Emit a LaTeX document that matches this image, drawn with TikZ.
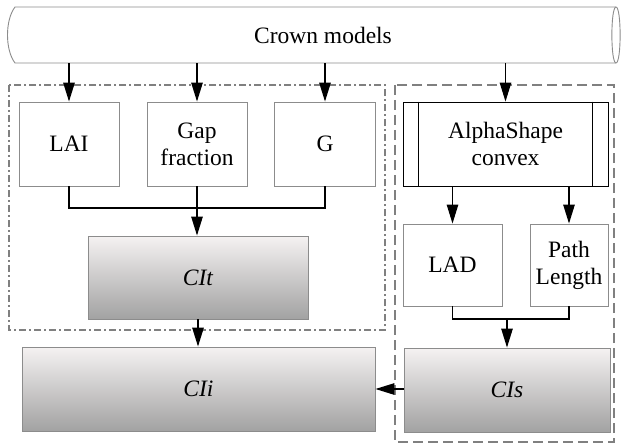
\documentclass[tikz,border=0pt]{standalone}
\usepackage{fontspec}
\setmainfont{Liberation Serif}
\newfontfamily\tnr{Liberation Serif}
\usetikzlibrary{arrows.meta}
\definecolor{boxgray}{HTML}{8C8C8C}
\definecolor{framegray}{HTML}{808080}
\definecolor{shtop}{HTML}{F5F2F2}
\definecolor{shbot}{HTML}{A2A2A2}
\tikzset{
  every node/.style={font=\tnr\fontsize{23.5}{27}\selectfont, inner sep=1pt},
  plainbox/.style={draw=boxgray, line width=0.9pt, fill=white, align=center},
  shadebox/.style={draw=boxgray, line width=0.9pt, top color=shtop, bottom color=shbot, align=center, font=\tnr\fontsize{23.5}{27}\selectfont\itshape},
  procbox/.style={draw=black, line width=0.9pt, fill=white, align=center},
  conn/.style={line width=1.1pt, draw=black},
  arr/.style={conn, -{Triangle[width=11.5pt,length=19pt]}},
  dashdotframe/.style={draw=framegray, line width=2pt, dash pattern=on 7pt off 3pt on 2pt off 3pt},
  dashframe/.style={draw=framegray, line width=2pt, dash pattern=on 10pt off 5pt},
}
\begin{document}
\begin{tikzpicture}[x=1pt,y=-1pt]
\useasboundingbox (0,0) rectangle (622,444);
% frames
\draw[dashdotframe] (9,85) rectangle (385,330);
\draw[dashframe] (395,85) rectangle (614,442);
% cylinder
\draw[boxgray, line width=0.9pt, fill=white]
  (15,63) .. controls (5,50) and (5,20) .. (15,7) -- (616,7)
  .. controls (621.5,7) and (621.5,63) .. (616,63) -- cycle;
\draw[boxgray, line width=0.9pt] (616,7) .. controls (610.5,7) and (610.5,63) .. (616,63);
\node[minimum height=56pt] (crown) at (323,35) {Crown models};
% boxes
\node[plainbox, minimum width=100pt, minimum height=84pt] (lai) at (69,144) {LAI};
\node[plainbox, minimum width=100pt, minimum height=84pt] (gap) at (197,144) {Gap\\fraction};
\node[plainbox, minimum width=101pt, minimum height=84pt] (g) at (325,144) {G};
\node[procbox, minimum width=205pt, minimum height=84pt] (alpha) at (505.5,144) {AlphaShape\\convex};
\draw[line width=0.9pt] ([xshift=16pt]alpha.north west) -- ([xshift=16pt]alpha.south west);
\draw[line width=0.9pt] ([xshift=-16pt]alpha.north east) -- ([xshift=-16pt]alpha.south east);
\node[plainbox, minimum width=99pt, minimum height=82pt] (lad) at (452.5,265) {LAD};
\node[plainbox, minimum width=78pt, minimum height=82pt] (path) at (569,265) {Path\\Length};
\node[shadebox, minimum width=220pt, minimum height=83pt] (cit) at (198,277.5) {CIt};
\node[shadebox, minimum width=353pt, minimum height=84pt] (cii) at (198.5,389) {CIi};
\node[shadebox, minimum width=206pt, minimum height=84pt] (cis) at (507,390) {CIs};
% connectors
\draw[arr] (crown.south -| lai.north) -- (lai.north);
\draw[arr] (crown.south -| gap.north) -- (gap.north);
\draw[arr] (crown.south -| g.north) -- (g.north);
\draw[arr] (crown.south -| alpha.north) -- (alpha.north);
\coordinate (m1) at (197,208);
\draw[conn] (lai.south) |- (m1) -| (g.south);
\draw[arr] (gap.south) -- (cit.north -| gap.south);
\draw[arr] (cit.south) -- (cii.north -| cit.south);
\draw[arr] (alpha.south -| lad.north) -- (lad.north);
\draw[arr] (alpha.south -| path.north) -- (path.north);
\coordinate (m2) at (507,319);
\draw[conn] (lad.south) |- (m2) -| (path.south);
\draw[arr] (m2) -- (cis.north);
\draw[arr] (cis.west |- 0,389) -- (cii.east |- 0,389);
\end{tikzpicture}
\end{document}
